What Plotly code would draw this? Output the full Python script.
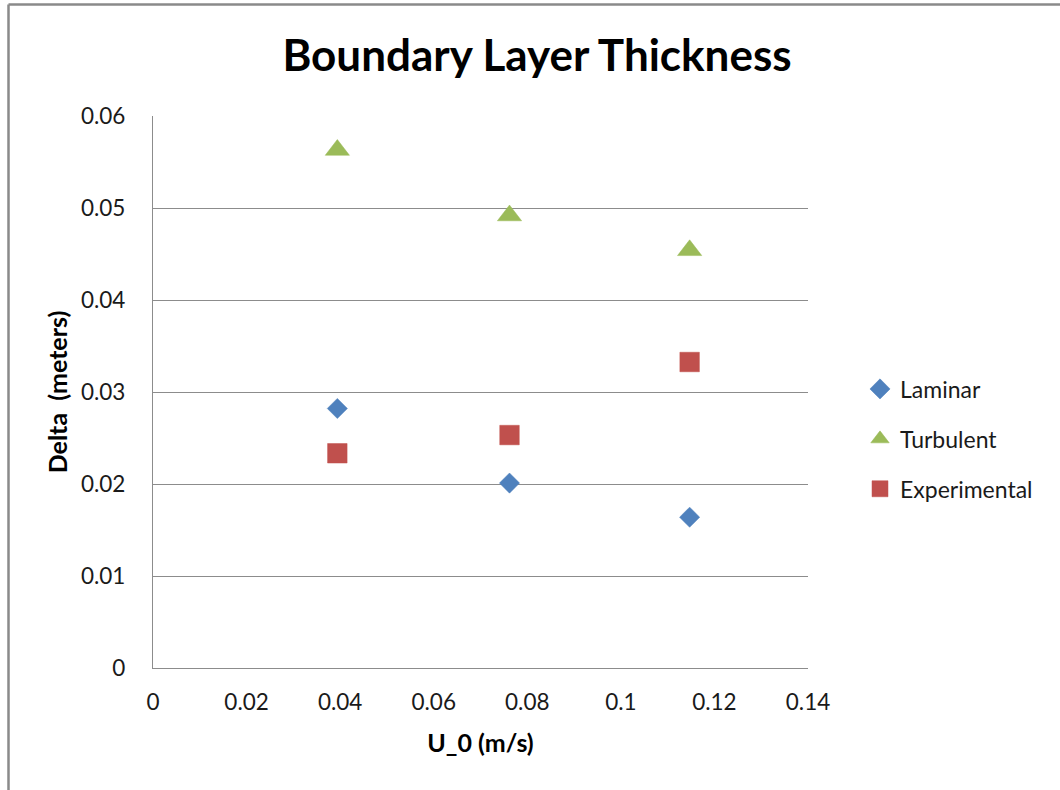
import plotly.graph_objects as go

# Free-stream velocity U_0 (m/s) for the three runs
u0 = [0.0394, 0.0762, 0.1147]

# Boundary layer thickness delta (m)
laminar = [0.02821, 0.0201, 0.01639]
turbulent = [0.0563, 0.04918, 0.0454]
experimental = [0.02334, 0.02532, 0.03326]

x_ticks = [0, 0.02, 0.04, 0.06, 0.08, 0.1, 0.12, 0.14]
x_tick_text = ["0", "0.02", "0.04", "0.06", "0.08", "0.1", "0.12", "0.14"]
y_ticks = [0, 0.01, 0.02, 0.03, 0.04, 0.05, 0.06]
y_tick_text = ["0", "0.01", "0.02", "0.03", "0.04", "0.05", "0.06"]

BLUE = "#4F81BD"
GREEN = "#9BBB59"
RED = "#C0504D"
GRID = "#8C8C8C"
FONT = "Lato"

W, H = 1060, 790
ML, MR, MT, MB = 153, 252, 116, 122
PW, PH = W - ML - MR, H - MT - MB


def px_x(p):
    return (p - ML) / PW


def px_y(p):
    return (H - MB - p) / PH


fig = go.Figure()
fig.add_trace(go.Scatter(
    x=u0, y=laminar, mode="markers", name="Laminar", legendgroup="a",
    marker=dict(symbol="diamond", size=15.5, color=BLUE,
                line=dict(color=BLUE, width=0.5)),
))
fig.add_trace(go.Scatter(
    x=u0, y=turbulent, mode="markers", name="Turbulent", legendgroup="b",
    marker=dict(symbol="triangle-up", size=21, color=GREEN,
                line=dict(color=GREEN, width=0.5)),
))
fig.add_trace(go.Scatter(
    x=u0, y=experimental, mode="markers", name="Experimental", legendgroup="c",
    marker=dict(symbol="square", size=19.5, color=RED,
                line=dict(color=RED, width=0.5)),
))

# Outer chart frame (top and left edges)
frame = dict(type="line", xref="paper", yref="paper",
             line=dict(color="#8A8A8A", width=2.5))
fig.add_shape(**frame, x0=px_x(8.5), x1=px_x(8.5), y0=px_y(4.5), y1=px_y(H + 5))
fig.add_shape(**frame, x0=px_x(8.5), x1=px_x(W + 5), y0=px_y(4.5), y1=px_y(4.5))

fig.update_layout(
    width=W, height=H,
    margin=dict(l=ML, r=MR, t=MT, b=MB, autoexpand=False),
    paper_bgcolor="white", plot_bgcolor="white",
    font=dict(family=FONT, color="#1a1a1a", size=22),
    title=dict(text="<b>Boundary Layer Thickness</b>", x=537 / W, xanchor="center",
               xref="container", yref="container", y=1 - 56 / H, yanchor="middle",
               font=dict(family=FONT, size=44, color="black")),
    showlegend=True,
    legend=dict(x=px_x(860), xanchor="left", y=px_y(439), yanchor="middle",
                traceorder="grouped", tracegroupgap=17,
                font=dict(family=FONT, size=23, color="#1a1a1a"),
                bgcolor="rgba(0,0,0,0)"),
    xaxis=dict(
        range=[0, 0.14], tickvals=x_ticks, ticktext=x_tick_text,
        showgrid=False, zeroline=False, showline=True, linecolor=GRID, linewidth=1.3,
        ticks="", ticklabelstandoff=14,
        tickfont=dict(family=FONT, size=22.5, color="#1a1a1a"),
        title=dict(text="<b>U_0 (m/s)</b>", standoff=20,
                   font=dict(family=FONT, size=25, color="black")),
    ),
    yaxis=dict(
        range=[0, 0.06], tickvals=y_ticks, ticktext=y_tick_text,
        showgrid=True, gridcolor=GRID, gridwidth=1.3,
        zeroline=False, showline=True, linecolor=GRID, linewidth=1.3,
        ticks="", ticklabelstandoff=22,
        tickfont=dict(family=FONT, size=22.5, color="#1a1a1a"),
        title=dict(text="<b>Delta  (meters)</b>", standoff=6,
                   font=dict(family=FONT, size=25, color="black")),
    ),
)

fig.write_html("out.html")
